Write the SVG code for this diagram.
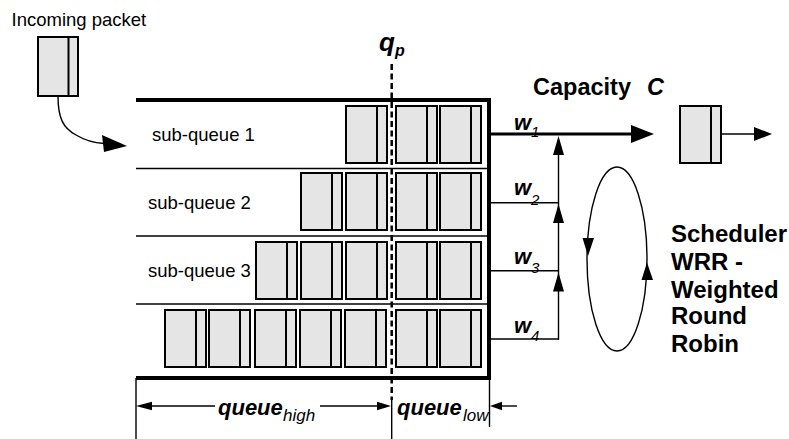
<svg xmlns="http://www.w3.org/2000/svg" xmlns:xlink="http://www.w3.org/1999/xlink" width="789" height="439" viewBox="0 0 789 439">
<style>
  .t { font-family: "Liberation Sans", Arial, sans-serif; fill: #000; }
  .lbl { font-size: 18.5px; }
  .bold { font-weight: bold; }
  .bi { font-weight: bold; font-style: italic; }
  .it { font-style: italic; }
  .pk rect { fill: #e5e5e5; stroke: #000; stroke-width: 2; }
  .pk line { stroke: #000; stroke-width: 2; }
  .thin { stroke: #000; stroke-width: 1.4; fill: none; }
  .thick { stroke: #000; stroke-width: 4; fill: none; }
  .head { fill: #000; stroke: none; }
</style>
<defs>
  <g id="pkt" class="pk">
    <rect x="0" y="0" width="41" height="57"/>
    <line x1="31" y1="0" x2="31" y2="57"/>
  </g>
</defs>
<rect width="789" height="439" fill="#fff"/>

<g id="incoming">
  <text class="t lbl" x="11.5" y="26">Incoming packet</text>
  <g class="pk">
    <rect x="38" y="37" width="40" height="59"/>
    <line x1="68.5" y1="37" x2="68.5" y2="96"/>
  </g>
</g>

<g id="queue-box">
  <line class="thick" x1="136" y1="100" x2="491" y2="100"/>
  <line class="thick" x1="136" y1="378" x2="491" y2="378"/>
  <line class="thick" x1="489" y1="98" x2="489" y2="380"/>
  <line class="thin" x1="136" y1="168.5" x2="489" y2="168.5"/>
  <line class="thin" x1="136" y1="236" x2="489" y2="236"/>
  <line class="thin" x1="136" y1="304" x2="489" y2="304"/>
</g>

<g id="subqueue1">
  <text class="t lbl" x="152" y="141">sub-queue 1</text>
  <use xlink:href="#pkt" x="346" y="106"/>
  <use xlink:href="#pkt" x="396" y="106"/>
  <use xlink:href="#pkt" x="440" y="106"/>
</g>
<g id="subqueue2">
  <text class="t lbl" x="148" y="209">sub-queue 2</text>
  <use xlink:href="#pkt" x="301" y="173"/>
  <use xlink:href="#pkt" x="346" y="173"/>
  <use xlink:href="#pkt" x="396" y="173"/>
  <use xlink:href="#pkt" x="440" y="173"/>
</g>
<g id="subqueue3">
  <text class="t lbl" x="148" y="277">sub-queue 3</text>
  <use xlink:href="#pkt" x="256" y="242"/>
  <use xlink:href="#pkt" x="301" y="242"/>
  <use xlink:href="#pkt" x="346" y="242"/>
  <use xlink:href="#pkt" x="396" y="242"/>
  <use xlink:href="#pkt" x="440" y="242"/>
</g>
<g id="subqueue4">
  <use xlink:href="#pkt" x="165" y="310"/>
  <use xlink:href="#pkt" x="209" y="310"/>
  <use xlink:href="#pkt" x="255" y="310"/>
  <use xlink:href="#pkt" x="300" y="310"/>
  <use xlink:href="#pkt" x="345" y="310"/>
  <use xlink:href="#pkt" x="396" y="310"/>
  <use xlink:href="#pkt" x="440" y="310"/>
</g>

<g id="qp">
  <text class="t bi" x="379" y="51" font-size="26">q</text>
  <text class="t bi" x="395" y="56" font-size="16">p</text>
</g>

<g id="capacity">
  <text class="t bold" x="533" y="95" font-size="23.5">Capacity</text>
  <text class="t bi" x="647" y="95" font-size="23.5">C</text>
</g>

<g id="weights">
  <text class="t bi" x="514" y="129.5" font-size="22">w</text><text class="t it" x="531" y="137" font-size="15">1</text>
  <text class="t bi" x="514" y="195" font-size="22">w</text><text class="t it" x="531" y="204.5" font-size="15">2</text>
  <text class="t bi" x="514" y="264" font-size="22">w</text><text class="t it" x="531" y="273" font-size="15">3</text>
  <text class="t bi" x="514" y="332.5" font-size="22">w</text><text class="t it" x="531" y="340.5" font-size="15">4</text>
</g>

<g id="outgoing">
  <use xlink:href="#pkt" x="680" y="106"/>
</g>

<g id="scheduler">
  <ellipse class="thin" cx="617" cy="259" rx="30" ry="92" stroke-width="2"/>
  <polygon class="head" points="582.5,238 594,238 588,256"/>
  <polygon class="head" points="641.5,280 653,280 647,262.5"/>
  <text class="t bold" font-size="24" x="671" y="242.3">Scheduler</text>
  <text class="t bold" font-size="24" x="671" y="270">WRR -</text>
  <text class="t bold" font-size="24" x="671" y="297.7">Weighted</text>
  <text class="t bold" font-size="24" x="671" y="324.3">Round</text>
  <text class="t bold" font-size="24" x="671" y="351.7">Robin</text>
</g>

<g id="dimensions">
  <text class="t bi" x="218" y="415" font-size="22">queue</text>
  <text class="t it" x="283" y="421" font-size="17">high</text>
  <text class="t bi" x="397" y="415" font-size="22">queue</text>
  <text class="t it" x="463" y="421" font-size="17">low</text>
</g>

<g id="connectors">
  <path class="thin" stroke-width="2" d="M58,96 C58,118 63,128 76,135 C86,141 95,143 104,143.5"/>
  <polygon class="head" points="102,135 127,146 104,152"/>
  <line x1="391.7" y1="64" x2="391.7" y2="400" stroke="#000" stroke-width="2.5" stroke-dasharray="6 3.5"/>
  <line class="thin" x1="391.7" y1="400" x2="391.7" y2="439"/>
  <line x1="489" y1="134" x2="633" y2="134" stroke="#000" stroke-width="3"/>
  <polygon class="head" points="631,125 654,134 631,143"/>
  <line class="thin" x1="721" y1="134" x2="756" y2="134"/>
  <polygon class="head" points="754,127 772,134 754,141"/>
  <line class="thin" x1="489" y1="202.7" x2="559" y2="202.7"/>
  <line class="thin" x1="489" y1="270.7" x2="559" y2="270.7"/>
  <line class="thin" x1="489" y1="339" x2="559" y2="339"/>
  <line class="thin" x1="558.5" y1="339.7" x2="558.5" y2="140"/>
  <polygon class="head" points="553,155 558.5,136 564,155"/>
  <polygon class="head" points="553,223 558.5,204 564,223"/>
  <polygon class="head" points="553,291.5 558.5,272.5 564,291.5"/>
  <line class="thin" x1="136" y1="378" x2="136" y2="439"/>
  <line class="thin" x1="489.5" y1="378" x2="489.5" y2="427"/>
  <line class="thin" x1="150" y1="406" x2="215" y2="406"/>
  <polygon class="head" points="136,406 152,401.7 152,410.3"/>
  <line class="thin" x1="320" y1="406" x2="379" y2="406"/>
  <polygon class="head" points="377,401.7 391,406 377,410.3"/>
  <line class="thin" x1="500" y1="406" x2="517" y2="406"/>
  <polygon class="head" points="502,401.7 490,406 502,410.3"/>
</g>
</svg>
